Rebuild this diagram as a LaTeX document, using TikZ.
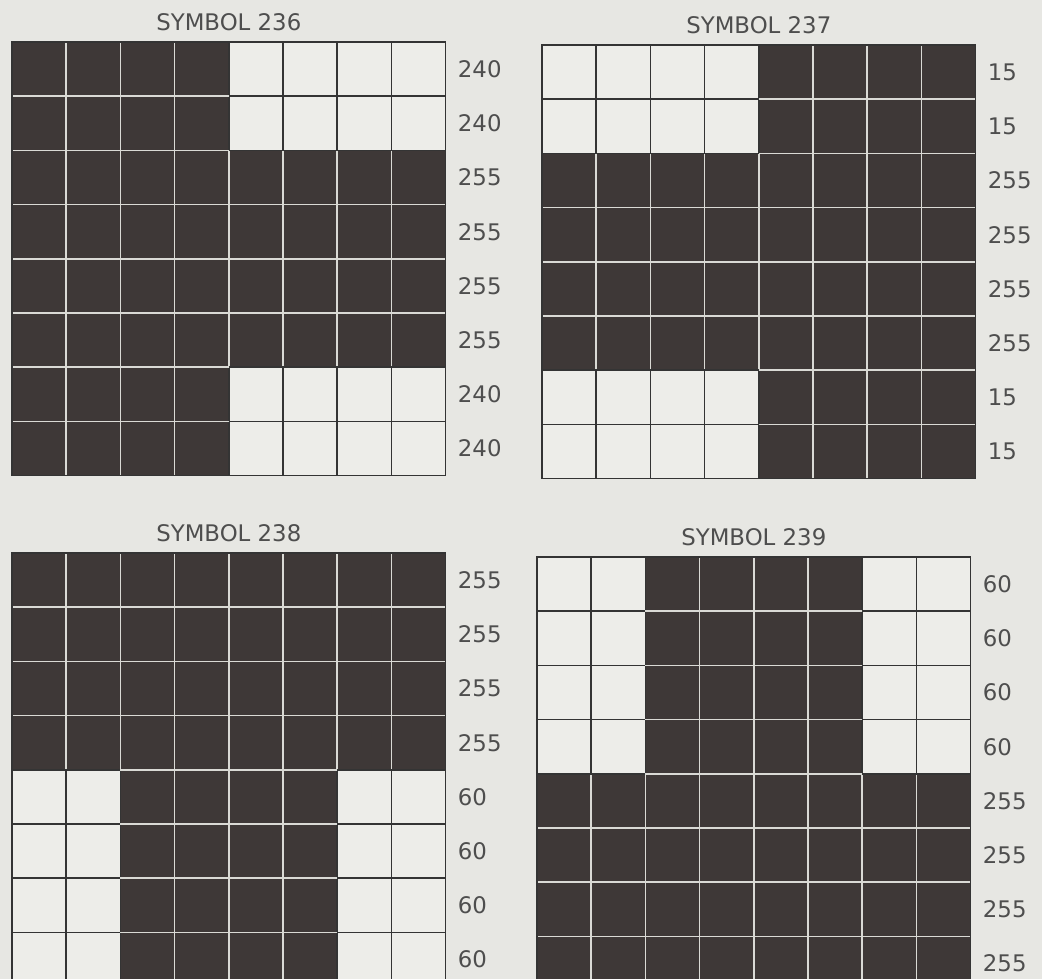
\documentclass[tikz,border=0pt]{standalone}
\usepackage{fontspec}
\setmainfont{DejaVu Sans}
\usepackage{xcolor}
\usetikzlibrary{positioning}
\definecolor{paper}{RGB}{231,231,227}
\definecolor{cellbg}{RGB}{237,237,233}
\definecolor{ink}{RGB}{62,56,55}
\definecolor{gridline}{RGB}{52,52,52}
\definecolor{litline}{RGB}{218,218,213}
\definecolor{txt}{RGB}{78,78,78}
\newcommand{\cellw}{54.2}

% one 8x8 character grid: #1 name, #2 title, #3 row values
\newcommand{\symgrid}[3]{%
  \fill[cellbg] (0,0) rectangle (8*\cellw,8*\cellw);
  \node[title] (#1-title) at (4*\cellw,-20) {#2};
  \foreach \row in {0,...,7} {
    \pgfmathtruncatemacro\rowval{{#3}[\row]}
    \foreach \col in {0,...,7} {
      \pgfmathtruncatemacro\bit{mod(floor(\rowval/2^(7-\col)),2)}
      \ifnum\bit=1 \fill[ink] (\col*\cellw,\row*\cellw) rectangle ++(\cellw,\cellw); \fi
    }
    \node[val] (#1-\row) at (8*\cellw+12,\row*\cellw+0.5*\cellw) {\rowval};
  }
  % vertical edges
  \foreach \row in {0,...,7} {
    \pgfmathtruncatemacro\rowval{{#3}[\row]}
    \foreach \col in {1,...,7} {
      \pgfmathtruncatemacro\bitl{mod(floor(\rowval/2^(8-\col)),2)}
      \pgfmathtruncatemacro\bitr{mod(floor(\rowval/2^(7-\col)),2)}
      \pgfmathtruncatemacro\both{\bitl*\bitr}
      \ifnum\both=1 \def\lc{litline}\else\def\lc{gridline}\fi
      \draw[cellline, draw=\lc] (\col*\cellw,\row*\cellw) -- ++(0,\cellw);
    }
  }
  % horizontal edges
  \foreach \row in {1,...,7} {
    \pgfmathtruncatemacro\prev{\row-1}
    \pgfmathtruncatemacro\rowa{{#3}[\prev]}
    \pgfmathtruncatemacro\rowb{{#3}[\row]}
    \foreach \col in {0,...,7} {
      \pgfmathtruncatemacro\bita{mod(floor(\rowa/2^(7-\col)),2)}
      \pgfmathtruncatemacro\bitb{mod(floor(\rowb/2^(7-\col)),2)}
      \pgfmathtruncatemacro\both{\bita*\bitb}
      \ifnum\both=1 \def\lc{litline}\else\def\lc{gridline}\fi
      \draw[cellline, draw=\lc] (\col*\cellw,\row*\cellw) -- ++(\cellw,0);
    }
  }
  \draw[cellline, draw=gridline] (0,0) rectangle (8*\cellw,8*\cellw);
}

\tikzset{
  title/.style={font=\fontsize{13}{15}\selectfont, text=txt, inner sep=0pt},
  val/.style={font=\fontsize{13}{15}\selectfont, text=txt, anchor=west, inner sep=0pt},
  cellline/.style={line width=1pt}
}

\begin{document}
\begin{tikzpicture}[x=0.02cm, y=-0.02cm]
  \useasboundingbox (0,0) rectangle (1042,979);
  \clip (0,0) rectangle (1042,979);
  \fill[paper] (0,0) rectangle (1042,979);
  % symbol 236
  \begin{scope}[shift={(12,42)}]
    \symgrid{s236}{SYMBOL 236}{240,240,255,255,255,255,240,240}
  \end{scope}
  % symbol 237
  \begin{scope}[shift={(542,45)}]
    \symgrid{s237}{SYMBOL 237}{15,15,255,255,255,255,15,15}
  \end{scope}
  % symbol 238
  \begin{scope}[shift={(12,553)}]
    \symgrid{s238}{SYMBOL 238}{255,255,255,255,60,60,60,60}
  \end{scope}
  % symbol 239
  \begin{scope}[shift={(537,557)}]
    \symgrid{s239}{SYMBOL 239}{60,60,60,60,255,255,255,255}
  \end{scope}
\end{tikzpicture}
\end{document}
